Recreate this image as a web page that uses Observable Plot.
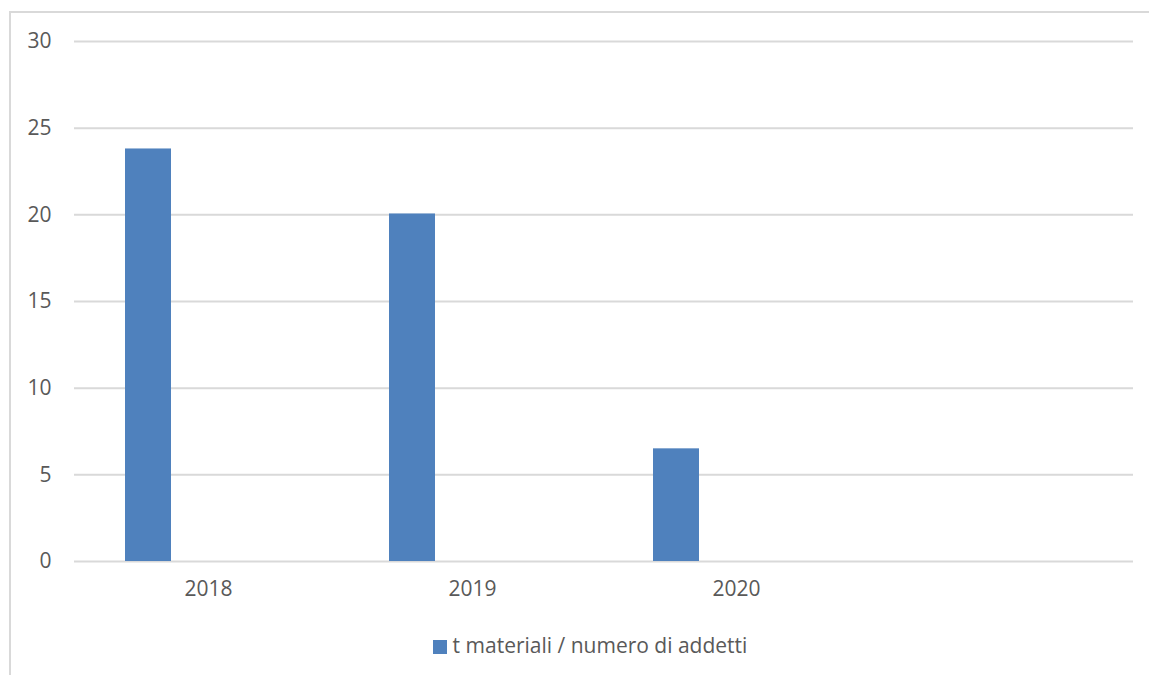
<!DOCTYPE html>
<html>
<head>
<meta charset="utf-8">
<script src="https://cdn.jsdelivr.net/npm/d3@7"></script>
<script src="https://cdn.jsdelivr.net/npm/@observablehq/plot@0.6"></script>
<style>
  html, body { margin: 0; padding: 0; background: #fff; overflow: hidden; }
  #wrap { position: relative; width: 1149px; height: 675px; font-family: "Open Sans", sans-serif; color: #595959; }
  #frame { position: absolute; left: 9px; top: 11px; width: 1200px; height: 700px; border-top: 2px solid #d9d9d9; border-left: 2px solid #d9d9d9; box-sizing: border-box; }
  #chart { position: absolute; left: 0; top: 0; }
  #legend { position: absolute; left: 0; width: 1180px; top: 630px; text-align: center; font-size: 21px; line-height: 30px; color: #595959; }
  #legend .sw { display: inline-block; width: 14px; height: 14px; background: #4f81bd; margin-right: 6px; vertical-align: -1px; }
</style>
</head>
<body>
<div id="wrap">
  <div id="frame"></div>
  <div id="chart"></div>
  <div id="legend"><span class="sw"></span>t materiali / numero di addetti</div>
</div>
<script>
const categories = ["2018", "2019", "2020", " "];
const years = ["2018", "2019", "2020"];
const values = [23.8, 20.05, 6.5];
const yTicks = [0, 5, 10, 15, 20, 25, 30];
const seriesName = "t materiali / numero di addetti";

const data = years.map((y, i) => ({year: y, value: values[i], series: seriesName}));

const chart = Plot.plot({
  width: 1149,
  height: 620,
  marginLeft: 74,
  marginRight: 16,
  marginTop: 41,
  marginBottom: 59,
  style: {fontFamily: "Open Sans, sans-serif", fontSize: "21px", color: "#595959", background: "transparent"},
  x: {domain: categories, padding: 0, label: null},
  y: {domain: [0, 30], ticks: yTicks, label: null},
  marks: [
    Plot.ruleY(yTicks, {stroke: "#d9d9d9", strokeWidth: 2}),
    Plot.barY(data, {x: "year", y: "value", fill: "#4f81bd", insetLeft: 49, insetRight: 169}),
    Plot.axisY({ticks: yTicks, tickSize: 0, tickPadding: 23, fill: "#595959", fontSize: 21, label: null}),
    Plot.axisX({tickSize: 0, tickPadding: 20, fill: "#595959", fontSize: 21, label: null})
  ]
});
document.getElementById("chart").appendChild(chart);
</script>
</body>
</html>
